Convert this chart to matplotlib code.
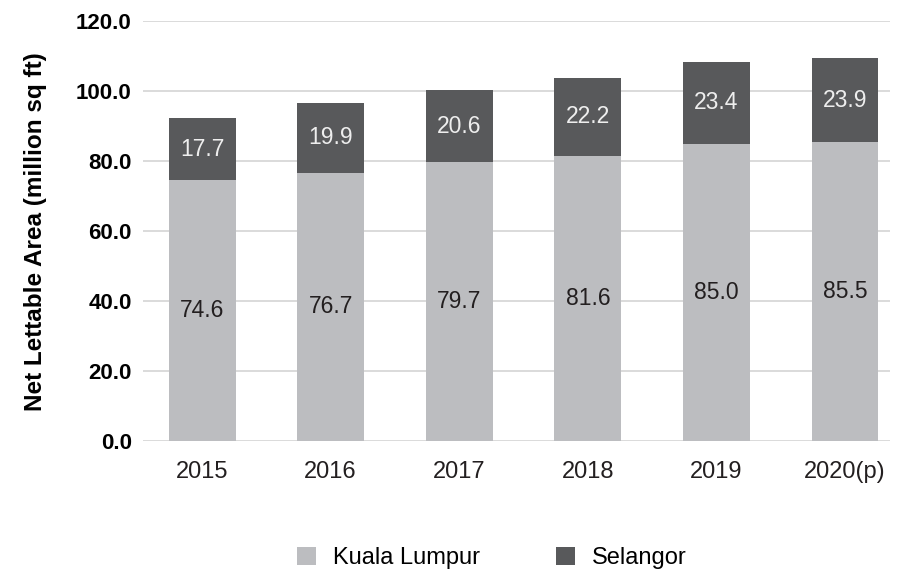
import matplotlib.pyplot as plt
import numpy as np

plt.rcParams['font.family'] = ['Liberation Sans', 'DejaVu Sans']

years = ["2015", "2016", "2017", "2018", "2019", "2020(p)"]
kuala_lumpur = [74.6, 76.7, 79.7, 81.6, 85.0, 85.5]
selangor = [17.7, 19.9, 20.6, 22.2, 23.4, 23.9]

c_kl = "#bcbdc0"
c_sel = "#58595b"

fig = plt.figure(figsize=(8.99, 5.70), dpi=100)
ax = fig.add_axes([0.159, 0.226, 0.831, 0.737])

x = np.arange(len(years))
w = 0.52
b1 = ax.bar(x, kuala_lumpur, w, color=c_kl, label="Kuala Lumpur", zorder=3)
b2 = ax.bar(x, selangor, w, bottom=kuala_lumpur, color=c_sel, label="Selangor", zorder=3)

for xi, kl, sel in zip(x, kuala_lumpur, selangor):
    ax.text(xi, kl / 2, f"{kl:.1f}", ha="center", va="center", fontsize=16.5, color="#231f20", zorder=4)
    ax.text(xi, kl + sel / 2, f"{sel:.1f}", ha="center", va="center", fontsize=16.5, color="#eeeeee", zorder=4)

ax.set_ylim(0, 120)
ax.set_xlim(-0.46, 5.35)
ax.set_yticks(np.arange(0, 121, 20))
ax.set_yticklabels([f"{v:.1f}" for v in np.arange(0, 121, 20)], fontweight="bold", fontsize=16)
ax.set_xticks(x)
ax.set_xticklabels(years, fontsize=17, color="#231f20")
ax.tick_params(axis="both", length=0)
ax.tick_params(axis="x", pad=14)
ax.tick_params(axis="y", pad=8)
ax.grid(axis="y", color="#d4d4d4", linewidth=1.2, zorder=0)
for s in ax.spines.values():
    s.set_visible(False)
ax.set_ylabel("Net Lettable Area (million sq ft)", fontsize=17.5, fontweight="bold", labelpad=21)

fig.legend(handles=[b1, b2], loc="center", bbox_to_anchor=(0.547, 0.021), ncol=2, frameon=False,
           fontsize=17, handlelength=0.8, handleheight=0.8, columnspacing=3.2, handletextpad=0.72)

fig.savefig("out.png", dpi=100)
